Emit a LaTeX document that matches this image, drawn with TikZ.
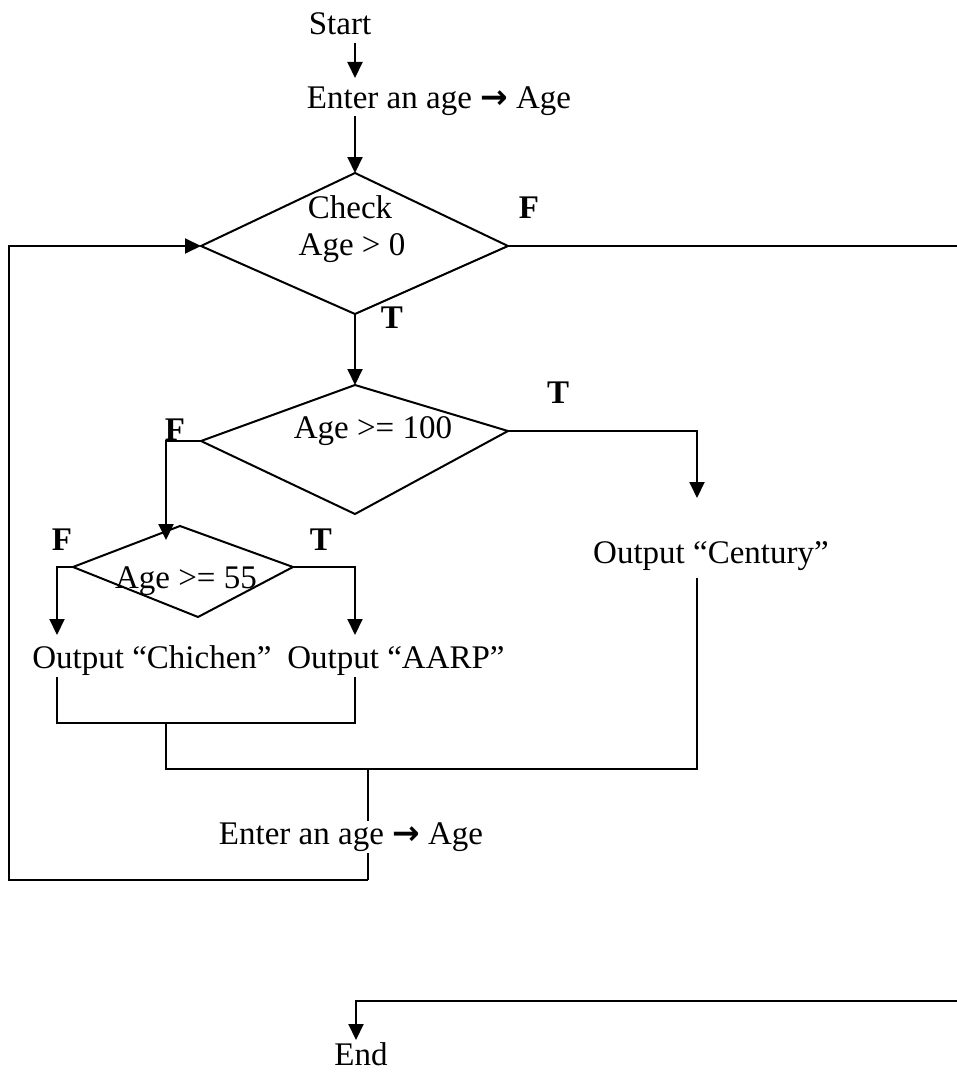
\documentclass[tikz,border=0pt]{standalone}
\usepackage{fontspec}
\setmainfont{Liberation Serif}
\newfontfamily\symfont{DejaVu Sans}
\usetikzlibrary{arrows.meta,calc}
% heavy arrow used inside the "Enter an age -> Age" steps
\newcommand{\into}{{\symfont\bfseries →}}

\begin{document}
\begin{tikzpicture}[x=1pt,y=-1pt,
  lbl/.style={font=\fontsize{33}{37}\selectfont, inner sep=0pt, anchor=base},
  flag/.style={lbl, font=\fontsize{33}{37}\selectfont\bfseries},
  edge/.style={line width=2pt, line join=miter},
  joinline/.style={line width=1.5pt},
  flow/.style={edge, -{Triangle[length=16pt,width=15pt]}},
]
\useasboundingbox (0,0) rectangle (957,1073);

% ---- start and first input ----
\node[lbl] (start) at (340,35) {Start};
\node[lbl] (enter1) at (439,108) {Enter an age \into{} Age};

% ---- decision: Age > 0 ----
\coordinate (d1n) at (355,173);
\coordinate (d1e) at (508,246);
\coordinate (d1s) at (355,314);
\coordinate (d1w) at (201,246);
\draw[edge] (d1n) -- (d1e) -- (d1s) -- (d1w) -- cycle;
\node[lbl] (check) at (350,218) {Check};
\node[lbl] (cond1) at (352,255) {Age > 0};
\node[flag] (f1) at (529,218) {F};
\node[flag] (t1) at (392,328) {T};

\draw[flow] ($(start.base -| d1n)+(0,8)$) -- ($(enter1.base -| d1n)+(0,-30)$);
\draw[flow] ($(enter1.base -| d1n)+(0,8)$) -- (d1n);

% ---- decision: Age >= 100 ----
\coordinate (d2n) at (355,385);
\coordinate (d2e) at (508,431);
\coordinate (d2s) at (355,514);
\coordinate (d2w) at (201,441);
\draw[edge] (d2n) -- (d2e) -- (d2s) -- (d2w) -- cycle;
\node[lbl] (cond2) at (373,438) {Age >= 100};
\node[flag] (f2) at (175,440) {F};
\node[flag] (t2) at (558,403) {T};
\draw[flow] (d1s) -- (d2n);

\node[lbl] (century) at (711,563) {Output “Century”};
\coordinate (c2) at (697,431);
\draw[flow] (d2e) -- (c2) -- ($(century.base -| c2)+(0,-65)$);

% ---- decision: Age >= 55 ----
\coordinate (d3n) at (180,526);
\coordinate (d3e) at (293,567);
\coordinate (d3s) at (198,617);
\coordinate (d3w) at (73,567);
\draw[edge] (d3n) -- (d3e) -- (d3s) -- (d3w) -- cycle;
\node[lbl] (cond3) at (186,588) {Age >= 55};
\node[flag] (f3) at (62,550) {F};
\node[flag] (t3) at (321,550) {T};

\coordinate (c3) at (166,441);
\coordinate (d3in) at (166,540);
\draw[flow] (d2w) -- (c3) -- (d3in);

\node[lbl] (chichen) at (152,668) {Output “Chichen”};
\node[lbl] (aarp) at (396,668) {Output “AARP”};
\coordinate (c4) at (57,567);
\coordinate (c5) at (355,567);
\draw[flow] (d3w) -- (c4) -- ($(chichen.base -| c4)+(0,-33)$);
\draw[flow] (d3e) -- (c5) -- ($(aarp.base -| c5)+(0,-33)$);

% ---- merging the branches ----
\coordinate (m1l) at (57,723);
\coordinate (m1r) at (355,723);
\coordinate (m1c) at (166,723);
\coordinate (m2l) at (166,769);
\coordinate (m2c) at (368,769);
\coordinate (m2r) at (697,769);
\draw[joinline] ($(chichen.base -| m1l)+(0,9)$) -- (m1l) -- (m1r) -- ($(aarp.base -| m1r)+(0,9)$);
\draw[joinline] (m1c) -- (m2l) -- (m2r) -- ($(century.base -| m2r)+(0,15)$);

% ---- loop back through the second input ----
\coordinate (lb) at (368,880);
\coordinate (lbl) at (9,880);
\coordinate (ltl) at (9,246);
\draw[joinline] (m2c) -- (lb);
\draw[edge, -{Triangle[length=16pt,width=15pt]}] (lb) -- (lbl) -- (ltl) -- (d1w);
\node[lbl, fill=white, inner sep=1.5pt] (enter2) at (351,844) {Enter an age \into{} Age};

% ---- exit when Age <= 0 ----
\coordinate (fr) at (957,246);
\draw[edge] (d1e) -- (fr);
\coordinate (er) at (957,1001);
\coordinate (ec) at (356,1001);
\node[lbl] (end) at (361,1065) {End};
\draw[flow] (er) -- (ec) -- ($(end.base -| ec)+(0,-25)$);
\end{tikzpicture}
\end{document}
